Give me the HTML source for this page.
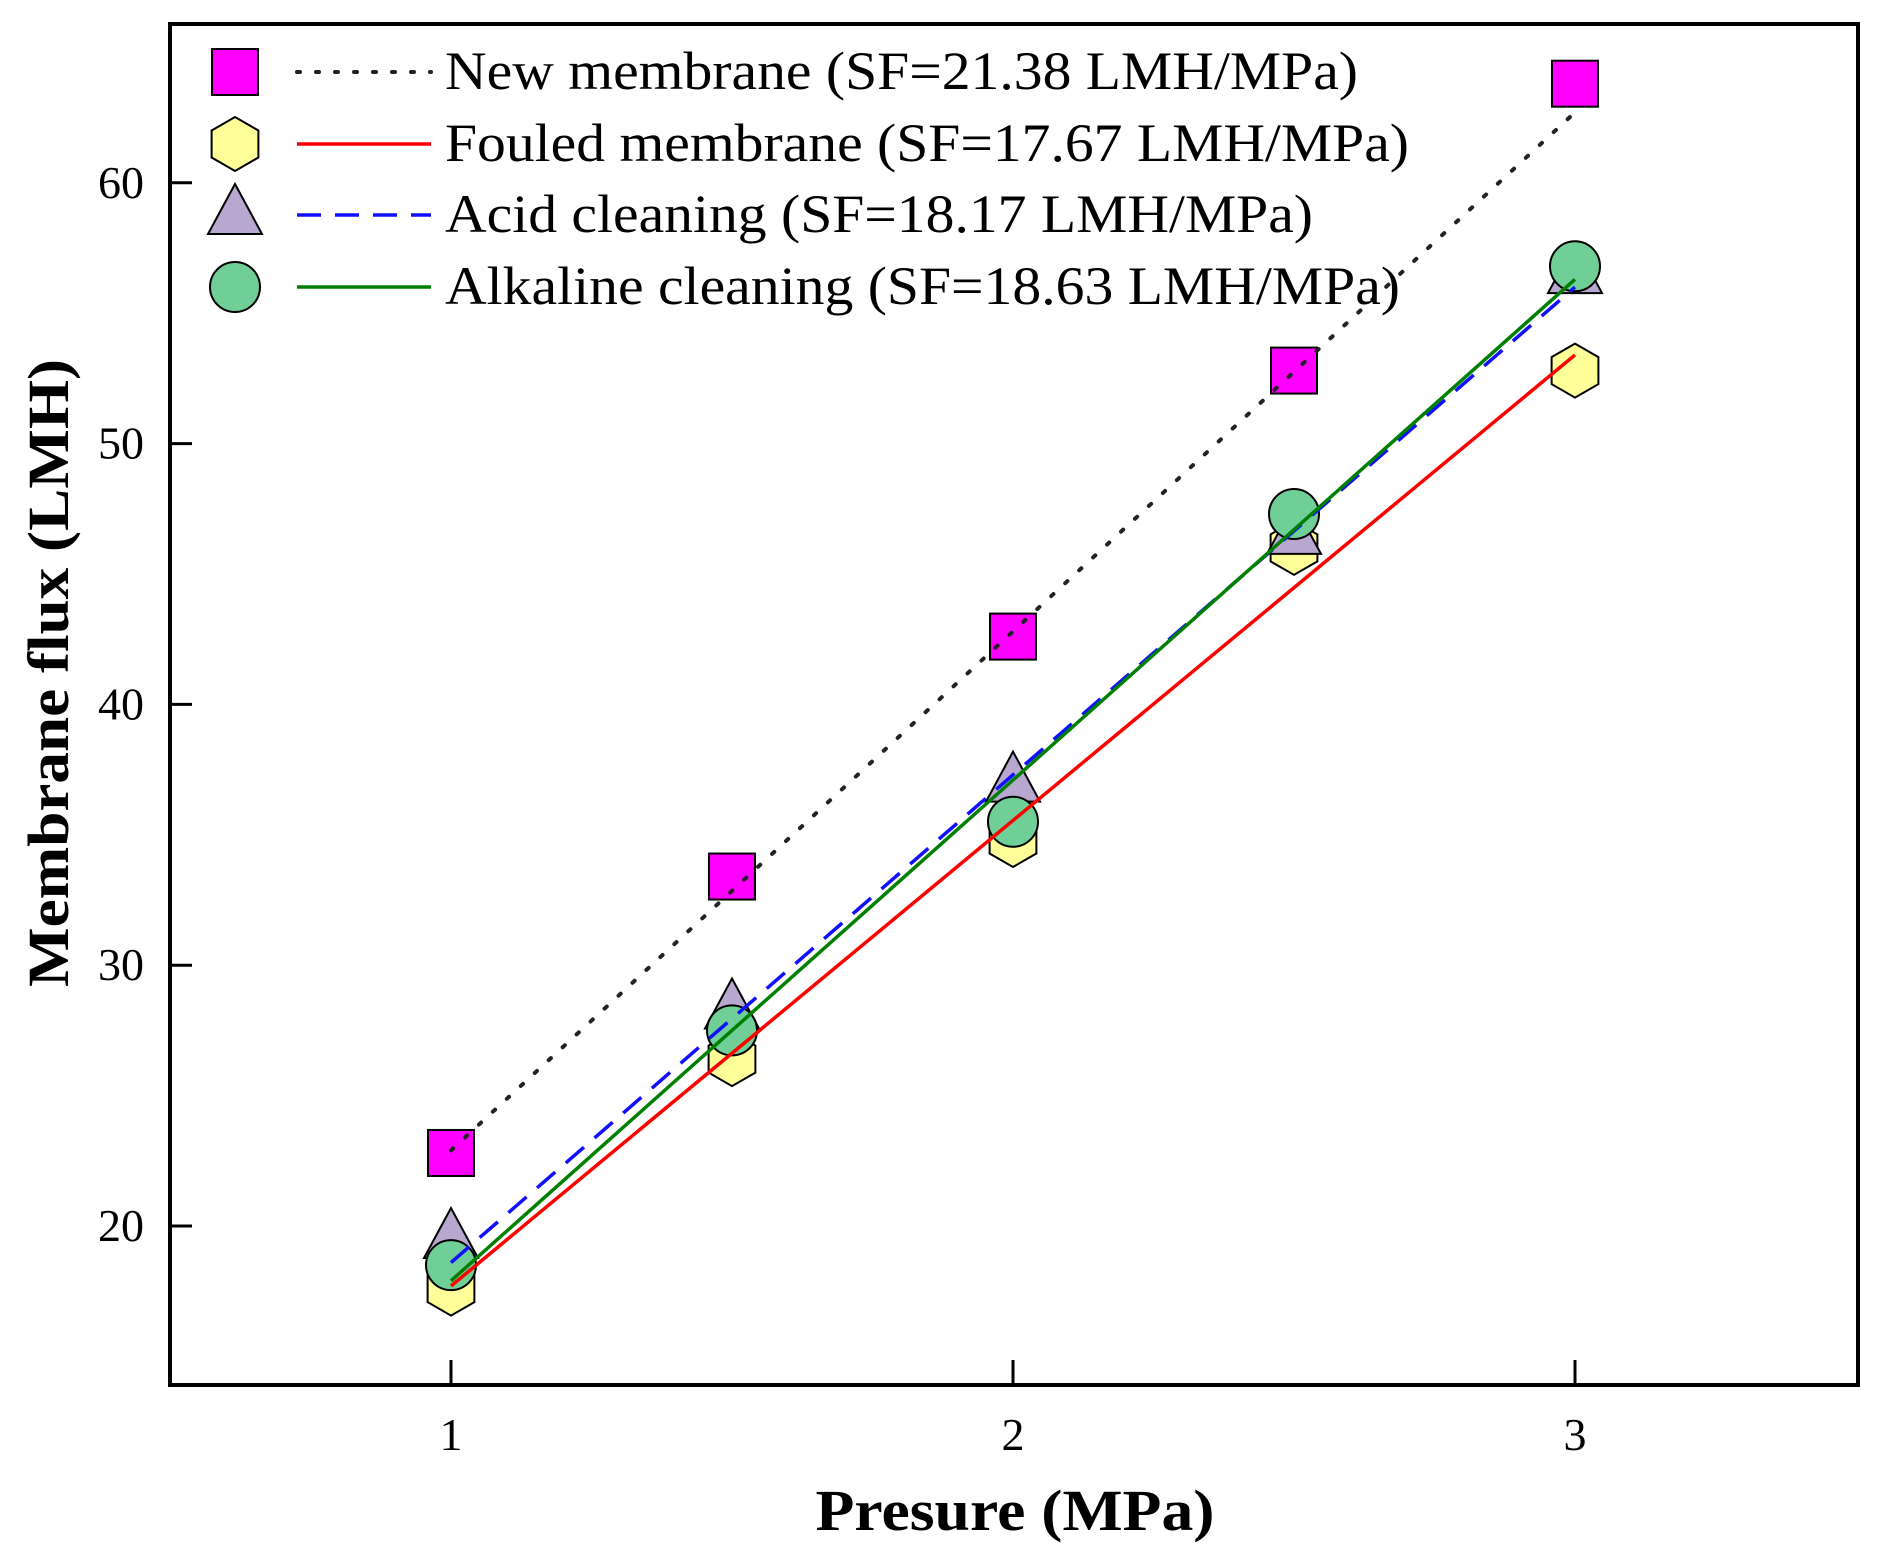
<!DOCTYPE html>
<html><head><meta charset="utf-8"><style>
body{margin:0;background:#fff}
svg{display:block;font-family:"Liberation Serif",serif}
</style></head><body>
<svg id="chart" width="1877" height="1568" viewBox="0 0 1877 1568">
<g id="marks"></g>
<rect x="170" y="24" width="1688" height="1361" fill="none" stroke="#000" stroke-width="4"/>
<g id="axes"></g>
<text transform="translate(68,673) rotate(-90)" text-anchor="middle" font-size="58" font-weight="bold" textLength="628" lengthAdjust="spacingAndGlyphs">Membrane flux (LMH)</text>
<text x="1015" y="1530" text-anchor="middle" font-size="58" font-weight="bold" textLength="399" lengthAdjust="spacingAndGlyphs">Presure (MPa)</text>
<g id="legend"></g>
</svg>
<script>
const pressures=[1,1.5,2,2.5,3];
const newVals=[22.8,33.4,42.6,52.8,63.8];
const fouledVals=[17.6,26.4,34.8,46.0,52.8];
const acidVals=[19.5,28.3,37.0,46.5,56.5];
const alkVals=[18.5,27.5,35.5,47.3,56.8];
const fitStart=[22.9,17.7,18.6,17.9];
const fitEnd=[62.7,53.4,56.0,56.3];
const xTicks=[1,2,3];
const yTicks=[20,30,40,50,60];
const labels=["New membrane (SF=21.38 LMH/MPa)","Fouled membrane (SF=17.67 LMH/MPa)","Acid cleaning (SF=18.17 LMH/MPa)","Alkaline cleaning (SF=18.63 LMH/MPa)"];
const labelLen=[913,964,868,955];

const NS="http://www.w3.org/2000/svg";
const X=v=>170+(v-0.5)*562;
const Y=v=>1226-(v-20)*26.08;
function mk(tag,attrs,parent){const e=document.createElementNS(NS,tag);for(const k in attrs)e.setAttribute(k,attrs[k]);parent.appendChild(e);return e;}
const marks=document.getElementById('marks'),axes=document.getElementById('axes'),legend=document.getElementById('legend');

const styles=[
 {stroke:"#222",dash:"3 16",w:4,cap:"round"},
 {stroke:"#ff0000",dash:"",w:3.5},
 {stroke:"#1010ff",dash:"24 14",w:3.5},
 {stroke:"#008000",dash:"",w:3.5}];
const fills=["#ff00ff","#ffff99","#b8a8d0","#6fcf97"];
const series=[newVals,fouledVals,acidVals,alkVals];
const shapes=["square","hex","tri","circle"];

function shape(kind,cx,cy,fill,parent,name){
 let e;
 if(kind==="square")e=mk('rect',{x:cx-23,y:cy-23,width:46,height:46},parent);
 else if(kind==="circle")e=mk('circle',{cx:cx,cy:cy,r:25},parent);
 else if(kind==="tri")e=mk('polygon',{points:`${cx},${cy-31} ${cx+27},${cy+19} ${cx-27},${cy+19}`},parent);
 else{let p=[];for(let i=0;i<6;i++){const a=Math.PI/6+i*Math.PI/3;p.push((cx+27*Math.cos(a)).toFixed(1)+","+(cy+27*Math.sin(a)).toFixed(1));}e=mk('polygon',{points:p.join(" ")},parent);}
 e.setAttribute('fill',fill);e.setAttribute('stroke','#000');e.setAttribute('stroke-width','2');
 
 
 return e;
}

const drawOrder=[1,2,3,0];
drawOrder.forEach(s=>{
 series[s].forEach((v,i)=>{shape(shapes[s],X(pressures[i]),Y(v),fills[s],marks,'marker-'+shapes[s]+'-'+i);});
});
[0,2,3,1].forEach(s=>{
 const st=styles[s];
 const l=mk('line',{x1:X(1),y1:Y(fitStart[s]),x2:X(3),y2:Y(fitEnd[s]),stroke:st.stroke,'stroke-width':st.w,'stroke-dasharray':st.dash,'stroke-linecap':st.cap||'butt'},marks);
 
 
});
xTicks.forEach(t=>{
 const l=mk('line',{x1:X(t),y1:1385,x2:X(t),y2:1360,stroke:'#000','stroke-width':3},axes);
 
 
 const tx=mk('text',{x:X(t),y:1450,'text-anchor':'middle','font-size':46},axes);tx.textContent=t;
 
 
});
yTicks.forEach(t=>{
 const l=mk('line',{x1:170,y1:Y(t),x2:192,y2:Y(t),stroke:'#000','stroke-width':3},axes);
 
 
 const tx=mk('text',{x:144,y:Y(t)+15,'text-anchor':'end','font-size':46},axes);tx.textContent=t;
 
 
});
const rowY=[72,144,215,287];
labels.forEach((lab,s)=>{
 const g=mk('g',{},legend);
 
 
 shape(shapes[s],235,rowY[s],fills[s],g,'legend-marker-'+s);
 const st=styles[s];
 mk('line',{x1:297,y1:rowY[s],x2:431,y2:rowY[s],stroke:st.stroke,'stroke-width':st.w,'stroke-dasharray':st.dash,'stroke-linecap':st.cap||'butt'},g);
 const tx=mk('text',{x:445,y:rowY[s]+17,'font-size':54,textLength:labelLen[s],lengthAdjust:'spacingAndGlyphs'},g);tx.textContent=lab;
});
</script>
</body></html>
